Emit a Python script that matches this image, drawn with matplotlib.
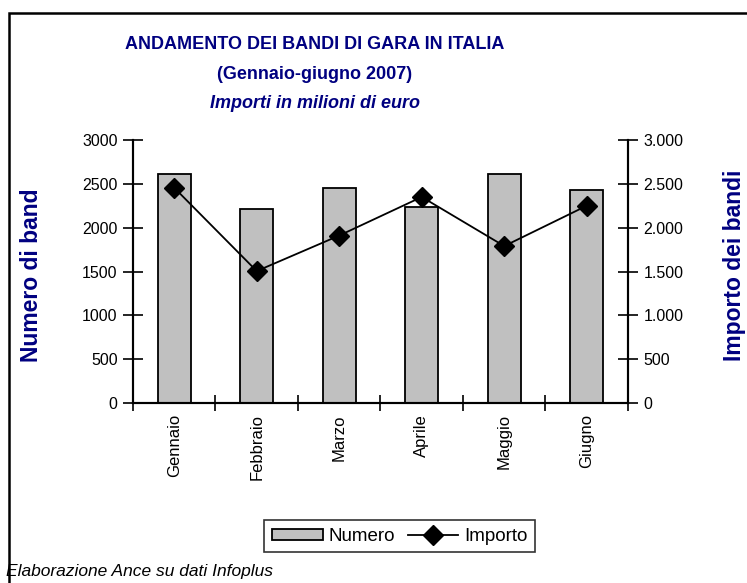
import numpy as np
import matplotlib.pyplot as plt
from matplotlib.ticker import FuncFormatter
from matplotlib.patches import Rectangle

mesi = ['Gennaio', 'Febbraio', 'Marzo', 'Aprile', 'Maggio', 'Giugno']
numero = [2610, 2210, 2450, 2230, 2610, 2430]  # numero di bandi
importo = [2455, 1505, 1910, 2350, 1790, 2250]  # milioni di euro

navy = '#000080'
plt.rcParams['font.family'] = ['Liberation Sans', 'DejaVu Sans']

fig = plt.figure(figsize=(7.47, 5.83), dpi=100)
ax = fig.add_axes([0.178, 0.3087, 0.6627, 0.4512])
x = np.arange(len(mesi))

ax.bar(x, numero, width=0.4, color='#c0c0c0', edgecolor='black', linewidth=1.3, label='Numero', zorder=2)
ax.set_xlim(-0.5, 5.5)
ax.set_ylim(0, 3000)
ax.set_yticks(np.arange(0, 3001, 500))
ax.set_xticks(np.arange(-0.5, 5.6, 1))
ax.set_xticklabels([])
ax.set_xticks(x, minor=True)
ax.set_xticklabels(mesi, minor=True, rotation=90, fontsize=12)
ax.tick_params(axis='x', which='minor', length=0, pad=8)
ax.tick_params(axis='x', which='major', direction='inout', length=12, width=1.2)
ax.tick_params(axis='y', direction='inout', length=14, width=1.2, labelsize=11.5, pad=4)
ax.spines['top'].set_visible(False)
for s in ['left', 'bottom', 'right']:
    ax.spines[s].set_linewidth(1.5)

ax2 = ax.twinx()
ax2.plot(x, importo, color='black', marker='D', markersize=10, linewidth=1.3, label='Importo', zorder=3)
ax2.set_ylim(0, 3000)
ax2.set_yticks(np.arange(0, 3001, 500))
ax2.yaxis.set_major_formatter(FuncFormatter(lambda v, p: f'{int(v):,}'.replace(',', '.')))
ax2.tick_params(axis='y', direction='inout', length=14, width=1.2, labelsize=11.5, pad=4)
ax2.spines['top'].set_visible(False)
for s in ['left', 'bottom', 'right']:
    ax2.spines[s].set_linewidth(1.5)

# titoli degli assi
fig.text(0.0415, 0.528, 'Numero di band', rotation=90, ha='center', va='center',
         fontsize=16.5, fontweight='bold', color=navy)
fig.text(0.9826, 0.5455, 'Importo dei bandi', rotation=90, ha='center', va='center',
         fontsize=16.5, fontweight='bold', color=navy)

h1, l1 = ax.get_legend_handles_labels()
h2, l2 = ax2.get_legend_handles_labels()
fig.legend(h1 + h2, l1 + l2, loc='center', bbox_to_anchor=(0.535, 0.08), ncol=2,
           fontsize=13.5, frameon=True, fancybox=False, edgecolor='black',
           handlelength=2.7, handleheight=0.55, columnspacing=0.7, handletextpad=0.3,
           borderpad=0.4, borderaxespad=0).get_frame().set_linewidth(1.2)

tx = 0.4217
fig.text(tx, 0.923, 'ANDAMENTO DEI BANDI DI GARA IN ITALIA', ha='center', va='center',
         fontsize=13, fontweight='bold', color=navy)
fig.text(tx, 0.872, '(Gennaio-giugno 2007)', ha='center', va='center',
         fontsize=13, fontweight='bold', color=navy)
fig.text(tx, 0.823, 'Importi in milioni di euro', ha='center', va='center',
         fontsize=13, fontweight='bold', fontstyle='italic', color=navy)
fig.text(0.008, 0.02, 'Elaborazione Ance su dati Infoplus', ha='left', va='center',
         fontsize=12.5, fontstyle='italic')

fig.patches.append(Rectangle((0.012, -0.05), 1.2, 1.028, transform=fig.transFigure,
                             fill=False, edgecolor='black', linewidth=1.8))

plt.savefig('out.png', dpi=100)
